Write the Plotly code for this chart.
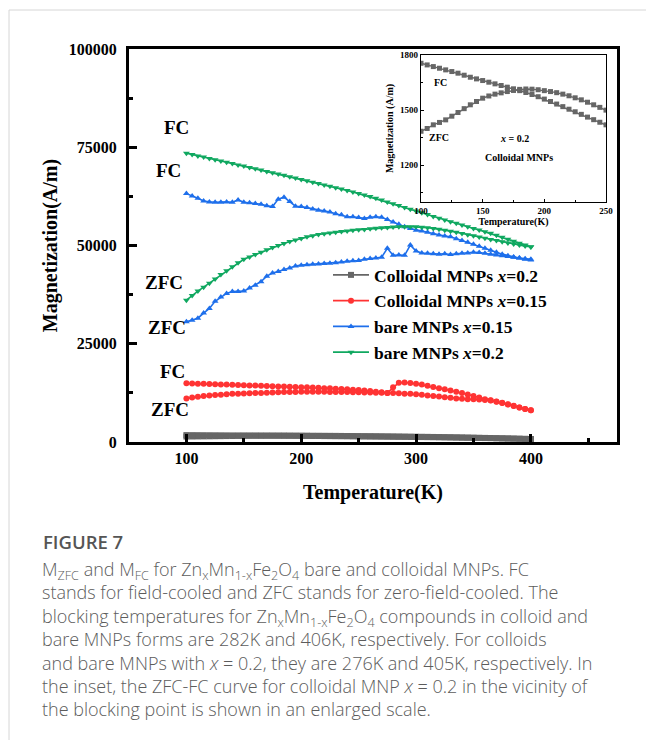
import plotly.graph_objects as go

# Temperature grid (K) of the ZFC/FC sweeps
temps = list(range(100, 405, 5))

# Colloidal MNPs x=0.2 (A/m)
colloid02_zfc = [1385, 1400, 1420, 1433, 1447, 1467, 1487, 1508, 1529, 1547, 1565, 1577, 1587, 1594, 1601, 1607,
                 1613, 1615, 1614, 1611, 1606, 1601, 1595, 1587, 1578, 1567, 1556, 1543, 1529, 1515, 1500,
                 1488, 1475, 1462, 1448, 1433, 1418, 1402, 1385, 1367, 1348, 1328, 1307, 1285, 1262, 1238,
                 1213, 1187, 1160, 1132, 1103, 1073, 1042, 1010, 977, 943, 908, 872, 835, 797, 760]
colloid02_fc = [1755, 1746, 1737, 1728, 1719, 1710, 1701, 1690, 1679, 1670, 1661, 1652, 1643, 1634, 1625, 1616,
                1606, 1596, 1585, 1573, 1560, 1547, 1533, 1519, 1505, 1491, 1477, 1462, 1448, 1434, 1420,
                1406, 1392, 1378, 1364, 1349, 1334, 1318, 1302, 1285, 1268, 1250, 1231, 1212, 1192, 1171,
                1149, 1127, 1104, 1080, 1055, 1029, 1003, 976, 948, 919, 889, 858, 826, 793, 760]

# Colloidal MNPs x=0.15 (A/m)
colloid015_zfc = [11100, 11300, 11500, 11700, 11850, 11950, 12050, 12150, 12250, 12300, 12350, 12400, 12450,
                  12500, 12550, 12600, 12650, 12700, 12750, 12750, 12800, 12800, 12800, 12800, 12800, 12750,
                  12750, 12700, 12700, 12650, 12650, 12600, 12600, 12550, 12550, 12500, 12450, 12400, 12300,
                  12250, 12150, 12000, 11850, 11700, 11550, 11400, 11250, 11100, 11000, 10900, 10850, 10800,
                  10700, 10550, 10250, 9950, 9550, 9150, 8750, 8400, 8100]
colloid015_fc = [14930, 14900, 14850, 14800, 14750, 14700, 14650, 14600, 14550, 14500, 14450, 14400, 14350,
                 14300, 14250, 14200, 14150, 14100, 14050, 14000, 13950, 13900, 13850, 13800, 13700, 13650,
                 13550, 13500, 13400, 13300, 13200, 13100, 12950, 12800, 12650, 12500, 13900, 15100, 15150,
                 15000, 14800, 14600, 14300, 14000, 13700, 13400, 13100, 12800, 12500, 12100, 11700, 11300,
                 10900, 10600, 10300, 10000, 9600, 9200, 8800, 8400, 8100]

# Bare MNPs x=0.15 (A/m)
bare015_zfc = [30600, 31000, 31500, 32800, 34000, 35800, 36900, 37800, 38300, 38300, 38400, 39200, 39900,
               40800, 42200, 43000, 43400, 43900, 44300, 44800, 45000, 45100, 45200, 45300, 45400, 45500,
               45600, 45800, 46000, 46100, 46200, 46500, 46700, 46800, 47000, 49300, 47500, 47600, 47500,
               50100, 48600, 48100, 48000, 47900, 47800, 47900, 47700, 47900, 48000, 48100, 48300, 48200,
               48000, 47800, 47600, 47400, 47200, 47000, 46800, 46500, 46300]
bare015_fc = [63200, 62600, 62000, 61300, 61100, 61000, 61000, 61100, 61000, 61600, 61000, 60900, 60700,
              60500, 60100, 59900, 61800, 62300, 61200, 60000, 59900, 59700, 59300, 59000, 58800, 58500,
              58100, 57800, 57300, 57300, 57100, 56900, 57200, 57300, 57200, 56600, 56000, 55400, 54800,
              54300, 53900, 53700, 53400, 53000, 52700, 52400, 52200, 51700, 51300, 50800, 50300, 49800,
              49300, 48800, 48300, 47800, 47400, 47100, 46800, 46600, 46500]

# Bare MNPs x=0.2 (A/m)
bare02_zfc = [36100, 37300, 38400, 39400, 40400, 41500, 42600, 43600, 44600, 45600, 46500, 47100, 47700,
              48300, 48900, 49500, 50000, 50500, 51000, 51400, 51800, 52200, 52500, 52800, 53000, 53200,
              53400, 53550, 53700, 53850, 54000, 54100, 54250, 54400, 54500, 54600, 54700, 54750, 54800,
              54800, 54750, 54650, 54500, 54350, 54150, 53900, 53650, 53350, 53050, 52750, 52450, 52150,
              51850, 51550, 51250, 50950, 50650, 50350, 50100, 49850, 49700]
bare02_fc = [73500, 73150, 72800, 72500, 72150, 71850, 71500, 71200, 70850, 70500, 70200, 69850, 69550,
             69200, 68850, 68500, 68200, 67850, 67500, 67150, 66800, 66450, 66100, 65750, 65400, 65050,
             64700, 64350, 64000, 63600, 63250, 62850, 62450, 62000, 61550, 61100, 60650, 60200, 59700,
             59250, 58800, 58350, 57900, 57400, 56950, 56500, 56050, 55650, 55200, 54800, 54350, 53950,
             53500, 53100, 52600, 52100, 51600, 51100, 50600, 50100, 49600]

series_names = ["Colloidal MNPs <i>x</i>=0.2", "Colloidal MNPs <i>x</i>=0.15",
                "bare MNPs <i>x</i>=0.15", "bare MNPs <i>x</i>=0.2"]
series_zfc = [colloid02_zfc, colloid015_zfc, bare015_zfc, bare02_zfc]
series_fc = [colloid02_fc, colloid015_fc, bare015_fc, bare02_fc]
series_colors = ["#666666", "#FF3333", "#1E6FEB", "#10A860"]
series_symbols = ["square", "circle", "triangle-up", "triangle-down"]

# Curve labels beside the sweeps: (text, pixel x, pixel y)
curve_labels = [("FC", 176, 127), ("FC", 168, 170), ("ZFC", 164, 282),
                ("ZFC", 167, 327), ("FC", 172, 371), ("ZFC", 170, 409)]

caption_title = "FIGURE 7"
caption_lines = [
    "M<sub>ZFC</sub> and M<sub>FC</sub> for Zn<sub>x</sub>Mn<sub>1-x</sub>Fe<sub>2</sub>O<sub>4</sub> bare and colloidal MNPs. FC",
    "stands for field-cooled and ZFC stands for zero-field-cooled. The",
    "blocking temperatures for Zn<sub>x</sub>Mn<sub>1-x</sub>Fe<sub>2</sub>O<sub>4</sub> compounds in colloid and",
    "bare MNPs forms are 282K and 406K, respectively. For colloids",
    "and bare MNPs with <i>x</i> = 0.2, they are 276K and 405K, respectively. In",
    "the inset, the ZFC-FC curve for colloidal MNP <i>x</i> = 0.2 in the vicinity of",
    "the blocking point is shown in an enlarged scale.",
]

# ---- layout geometry (pixels) ----
W, H = 646, 740
PL, PT, PW, PH = 129, 49, 488, 393


def px(x):
    return (x - PL) / PW


def py(y):
    return 1 - (y - PT) / PH


SERIF = "Times New Roman, Liberation Serif, serif"
SANS = "Open Sans, Noto Sans, sans-serif"

fig = go.Figure()

for name, zfc, fc, col, sym in zip(series_names, series_zfc, series_fc, series_colors, series_symbols):
    fig.add_trace(go.Scatter(
        x=temps + temps[::-1], y=zfc + fc[::-1], name=name, mode="lines+markers",
        line=dict(color=col, width=1.6),
        marker=dict(symbol=sym, size=6, color=col, line=dict(width=0)),
        xaxis="x", yaxis="y",
    ))

# Inset: colloidal x=0.2 on an enlarged scale
fig.add_trace(go.Scatter(
    x=temps + temps[::-1], y=colloid02_zfc + colloid02_fc[::-1], mode="lines+markers",
    line=dict(color="#666666", width=1.4),
    marker=dict(symbol="square", size=5, color="#666666", line=dict(width=0)),
    xaxis="x2", yaxis="y2", showlegend=False,
))

axis_common = dict(showline=True, mirror=True, linecolor="black", showgrid=False, zeroline=False,
                   ticks="inside", tickcolor="black")

fig.update_layout(
    width=W, height=H,
    margin=dict(l=PL, r=W - PL - PW, t=PT, b=H - PT - PH),
    paper_bgcolor="white", plot_bgcolor="rgba(0,0,0,0)",
    xaxis=dict(**axis_common, domain=[0, 1], range=[50, 475], tick0=0, dtick=100, linewidth=3,
               ticklen=8, tickwidth=2.5,
               minor=dict(dtick=50, ticks="inside", ticklen=4, tickwidth=2.5, tickcolor="black"),
               tickfont=dict(family=SERIF, size=16, color="black", weight="bold"),
               title=dict(text="Temperature(K)", font=dict(family=SERIF, size=20, color="black", weight="bold"),
                          standoff=19)),
    yaxis=dict(**axis_common, domain=[0, 1], range=[0, 100000], tick0=0, dtick=25000, tickformat="d",
               linewidth=3, ticklen=8, tickwidth=2.5,
               minor=dict(dtick=12500, ticks="inside", ticklen=4, tickwidth=2.5, tickcolor="black"),
               tickfont=dict(family=SERIF, size=16, color="black", weight="bold"),
               ticklabelstandoff=6,
               title=dict(text="Magnetization(A/m)", font=dict(family=SERIF, size=20, color="black", weight="bold"),
                          standoff=6)),
    xaxis2=dict(**axis_common, domain=[px(421), px(606)], anchor="y2", range=[100, 250], tick0=0, dtick=50,
                linewidth=1.3, ticklen=3, tickwidth=1,
                minor=dict(dtick=25, ticks="inside", ticklen=2, tickwidth=1, tickcolor="black"),
                tickfont=dict(family=SERIF, size=9, color="black", weight="bold"),
                title=dict(text="Temperature(K)", font=dict(family=SERIF, size=10, color="black", weight="bold"),
                           standoff=2)),
    yaxis2=dict(**axis_common, domain=[py(202), py(55)], anchor="x2", range=[1000, 1800], tick0=0, dtick=300,
                linewidth=1.3, ticklen=3, tickwidth=1, tickvals=[1200, 1500, 1800],
                minor=dict(tickvals=[1050, 1350, 1650], ticks="inside", ticklen=2, tickwidth=1, tickcolor="black"),
                tickfont=dict(family=SERIF, size=9, color="black", weight="bold"),
                title=dict(text="Magnetization (A/m)", font=dict(family=SERIF, size=10, color="black", weight="bold"),
                           standoff=4)),
    legend=dict(x=px(328), y=py(257), xanchor="left", yanchor="top", bgcolor="rgba(0,0,0,0)",
                font=dict(family=SERIF, size=17.5, color="black", weight="bold"),
                tracegroupgap=0, itemwidth=36),
    showlegend=True,
)

annotations = []
for text, x, y in curve_labels:
    annotations.append(dict(text=text, x=px(x), y=py(y), xref="paper", yref="paper", showarrow=False,
                            xanchor="center", yanchor="middle",
                            font=dict(family=SERIF, size=19, color="black", weight="bold")))

inset_labels = [("FC", 440, 82), ("ZFC", 439, 137), ("<i>x</i> = 0.2", 514, 139), ("Colloidal MNPs", 519, 157)]
for text, x, y in inset_labels:
    annotations.append(dict(text=text, x=px(x), y=py(y), xref="paper", yref="paper", showarrow=False,
                            xanchor="center", yanchor="middle",
                            font=dict(family=SERIF, size=10, color="black", weight="bold")))

annotations.append(dict(text=caption_title, x=px(41), y=py(541), xref="paper", yref="paper", showarrow=False,
                        xanchor="left", yanchor="middle",
                        font=dict(family=SANS, size=18.5, color="#555555", weight=600)))
# Caption body as one block; plotly's 1.3 line spacing gives ~23.4 px rows at this size
annotations.append(dict(text="<br>".join(caption_lines), x=px(40), y=py(555), xref="paper", yref="paper",
                        showarrow=False, xanchor="left", yanchor="top", align="left",
                        font=dict(family=SANS, size=18, color="#5c5c5c", weight=300)))

fig.update_layout(annotations=annotations)

# Light card outline along the top and left page edges
fig.update_layout(shapes=[
    dict(type="line", xref="paper", yref="paper", x0=px(9), x1=px(660), y0=py(10), y1=py(10),
         line=dict(color="#d6d6d6", width=1)),
    dict(type="line", xref="paper", yref="paper", x0=px(9), x1=px(9), y0=py(10), y1=py(745),
         line=dict(color="#d6d6d6", width=1)),
])

fig.write_html("out.html")
